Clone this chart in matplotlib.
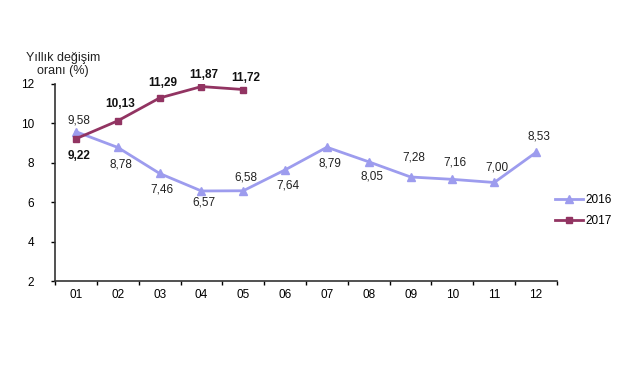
import numpy as np
import matplotlib.pyplot as plt

plt.rcParams['font.family'] = ['Liberation Sans', 'DejaVu Sans']

months = ['01', '02', '03', '04', '05', '06', '07', '08', '09', '10', '11', '12']
y2016 = [9.58, 8.78, 7.46, 6.57, 6.58, 7.64, 8.79, 8.05, 7.28, 7.16, 7.00, 8.53]
y2017 = [9.22, 10.13, 11.29, 11.87, 11.72]
# label offsets in pixels (negative = above the point)
off2016 = [-11, 17, 16, 12, -13, 16, 16, 15, -19, -17, -15, -16]
off2017 = [17, -17, -15, -12, -12]

c16 = '#9d9cee'
c17 = '#923462'

fig = plt.figure(figsize=(6.4, 3.74), dpi=100)
ax = fig.add_axes([55 / 640, 1 - 281 / 374, 502 / 640, 197 / 374])

x = np.arange(1, 13)
ax.plot(x, y2016, color=c16, lw=2, marker='^', ms=5.5, label='2016')
ax.plot(x[:len(y2017)], y2017, color=c17, lw=2, marker='s', ms=5, label='2017')

for xi, v, o in zip(x, y2016, off2016):
    ax.annotate(f'{v:.2f}'.replace('.', ','), (xi, v), xytext=(2, -o * 0.72),
                textcoords='offset points', ha='center', va='center',
                fontsize=8.5, color='#222222')
for xi, v, o in zip(x, y2017, off2017):
    ax.annotate(f'{v:.2f}'.replace('.', ','), (xi, v), xytext=(2, -o * 0.72),
                textcoords='offset points', ha='center', va='center',
                fontsize=8.5, fontweight='bold', color='#111111')

ax.set_xlim(0.5, 12.5)
ax.set_ylim(2, 12)
ax.set_yticks([2, 4, 6, 8, 10, 12])
ax.set_xticks(x)
ax.set_xticklabels(months)
ax.set_xticks(np.arange(0.5, 13, 1), minor=True)
ax.tick_params(axis='x', which='major', length=0, pad=6, labelsize=8.5)
ax.tick_params(axis='x', which='minor', length=3, direction='out', width=1)
ax.tick_params(axis='y', length=3, width=1, labelsize=8.5, pad=12)
for s in ['top', 'right']:
    ax.spines[s].set_visible(False)
for s in ['left', 'bottom']:
    ax.spines[s].set_color('#333333')
    ax.spines[s].set_linewidth(1.2)

fig.text(63 / 640, 1 - 64.5 / 374, 'Yıllık değişim\noranı (%)', ha='center', va='center',
         fontsize=9, color='#222222', linespacing=1.15)

fig.legend(loc='center left', bbox_to_anchor=(0.85, 0.437), frameon=False,
           fontsize=8.5, handlelength=2.4, handletextpad=0.2, labelspacing=0.8)

fig.savefig('out.png', dpi=100)
